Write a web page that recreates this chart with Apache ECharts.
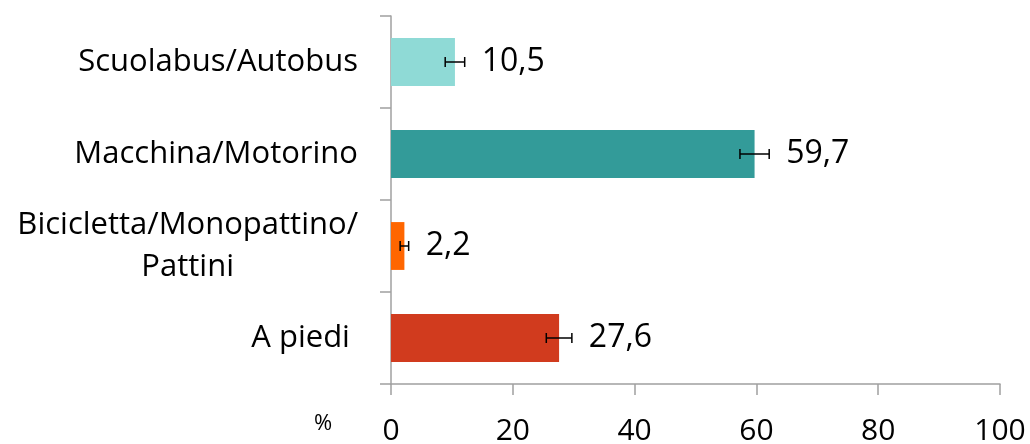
<!DOCTYPE html>
<html>
<head>
<meta charset="utf-8">
<script src="https://cdn.jsdelivr.net/npm/echarts@6/dist/echarts.min.js"></script>
<style>
html,body{margin:0;padding:0;background:#fff;overflow:hidden;}
#chart{width:1030px;height:444px;}
</style>
</head>
<body>
<div id="chart"></div>
<script>
var categories = ['A piedi ', 'Bicicletta/Monopattino/\nPattini', 'Macchina/Motorino', 'Scuolabus/Autobus'];
var values = [27.6, 2.2, 59.7, 10.5];
var errors = [2.1, 0.7, 2.4, 1.6];
var labels = ['27,6', '2,2', '59,7', '10,5'];
var colors = ['#D13B1E', '#FF6600', '#339B99', '#8FDAD6'];
var xTicks = [0, 20, 40, 60, 80, 100];

var FONT = 'Open Sans';
var chart = echarts.init(document.getElementById('chart'));
var option = {
  animation: false,
  grid: {left: 391, right: 30, top: 16, bottom: 60, containLabel: false, outerBoundsMode: 'none'},
  xAxis: {
    type: 'value', min: 0, max: 100, interval: 20,
    axisLine: {show: true, lineStyle: {color: '#A0A0A0', width: 1.5}},
    axisTick: {show: true, length: 11, lineStyle: {color: '#A0A0A0', width: 1.5}},
    splitLine: {show: false},
    axisLabel: {fontFamily: FONT, fontSize: 30, color: '#000', margin: 32,
      formatter: function (v) { return xTicks.indexOf(v) >= 0 ? String(v) : ''; }}
  },
  yAxis: {
    type: 'category', data: categories,
    axisLine: {show: true, lineStyle: {color: '#A0A0A0', width: 1.5}},
    axisTick: {show: true, length: 11, lineStyle: {color: '#A0A0A0', width: 1.5}},
    axisLabel: {fontFamily: FONT, fontSize: 31, color: '#000', margin: 33, lineHeight: 42,
      formatter: function (v) {
        return v.split('\n').map(function (s) { return '{c|' + s + '}'; }).join('\n');
      },
      rich: {c: {fontFamily: FONT, fontSize: 31, color: '#000', align: 'center', lineHeight: 42}}
    }
  },
  graphic: [{type: 'text', left: 314, top: 413, style: {text: '%', fontFamily: FONT, fontSize: 22, fill: '#000'}}],
  series: [{
    type: 'bar',
    data: values.map(function (v, i) { return {value: v, itemStyle: {color: colors[i]}}; }),
    barWidth: '52%'
  }, {
    type: 'custom',
    data: values.map(function (v, i) { return [v, i, errors[i]]; }),
    renderItem: function (params, api) {
      var v = api.value(0), c = api.value(1), e = api.value(2);
      var p0 = api.coord([v - e, c]);
      var p1 = api.coord([v + e, c]);
      var y = p0[1];
      var h = 5;
      var st = {stroke: '#000', lineWidth: 1.5};
      return {type: 'group', children: [
        {type: 'line', shape: {x1: p0[0], y1: y, x2: p1[0], y2: y}, style: st},
        {type: 'line', shape: {x1: p0[0], y1: y - h, x2: p0[0], y2: y + h}, style: st},
        {type: 'line', shape: {x1: p1[0], y1: y - h, x2: p1[0], y2: y + h}, style: st},
        {type: 'text', x: p1[0] + 17, y: y, style: {text: labels[params.dataIndex], fontFamily: FONT, fontSize: 32, fill: '#000', textAlign: 'left', textVerticalAlign: 'middle'}}
      ]};
    },
    z: 5
  }]
};
chart.setOption(option);
</script>
</body>
</html>
